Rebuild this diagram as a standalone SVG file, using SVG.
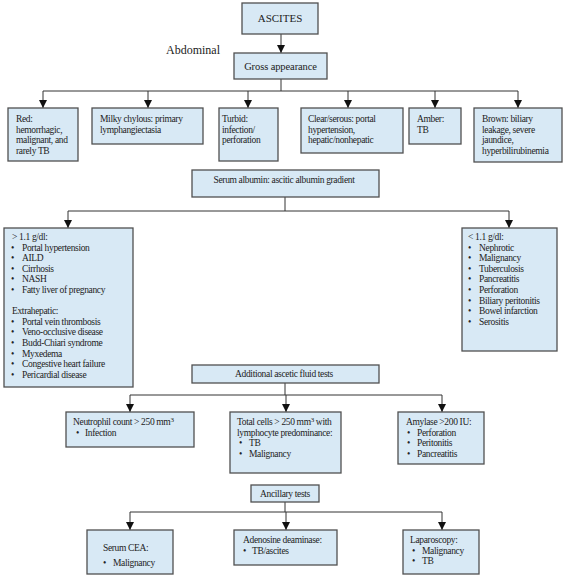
<svg xmlns="http://www.w3.org/2000/svg" width="564" height="579" viewBox="0 0 564 579">
<defs>
<style>
.box{fill:#d8e9f5;stroke:#505050;stroke-width:1.3}
.t{font-family:"Liberation Serif","Times New Roman",serif;font-size:9.5px;letter-spacing:-0.35px;fill:#222}
.c{text-anchor:middle}
.big{font-size:11px;letter-spacing:0}
.mid{font-size:10.5px;letter-spacing:-0.1px}
.ln{fill:none;stroke:#333;stroke-width:1}
</style>
<marker id="ah" markerUnits="userSpaceOnUse" markerWidth="9" markerHeight="9" refX="8" refY="4" orient="auto">
<path d="M0,0 L8,4 L0,8 Z" fill="#111"/>
</marker>
</defs>
<rect width="564" height="579" fill="#fff"/>

<g id="connectors">
<path class="ln" d="M281,34 V53" marker-end="url(#ah)"/>
<path class="ln" d="M281,79 V91 M43,91 H518"/>
<path class="ln" d="M43,91 V108" marker-end="url(#ah)"/>
<path class="ln" d="M148,91 V108" marker-end="url(#ah)"/>
<path class="ln" d="M248,91 V108" marker-end="url(#ah)"/>
<path class="ln" d="M348,91 V108" marker-end="url(#ah)"/>
<path class="ln" d="M435,91 V108" marker-end="url(#ah)"/>
<path class="ln" d="M518,91 V108" marker-end="url(#ah)"/>
<path class="ln" d="M285,197 V211 M68,211 H509"/>
<path class="ln" d="M68,211 V228" marker-end="url(#ah)"/>
<path class="ln" d="M509,211 V228" marker-end="url(#ah)"/>
<path class="ln" d="M285,383 V395 M130,395 H442"/>
<path class="ln" d="M130,395 V412" marker-end="url(#ah)"/>
<path class="ln" d="M286,395 V412" marker-end="url(#ah)"/>
<path class="ln" d="M442,395 V412" marker-end="url(#ah)"/>
<path class="ln" d="M285,502 V512 M130,512 H442"/>
<path class="ln" d="M130,512 V530" marker-end="url(#ah)"/>
<path class="ln" d="M286,512 V530" marker-end="url(#ah)"/>
<path class="ln" d="M442,512 V530" marker-end="url(#ah)"/>
</g>

<g id="ascites">
<rect class="box" x="242" y="3" width="76" height="31"/>
<text class="t c big" x="280" y="22">ASCITES</text>
</g>

<g id="abdominal-label">
<text class="t" x="166" y="54" style="font-size:12px;letter-spacing:0">Abdominal</text>
</g>

<g id="gross">
<rect class="box" x="234" y="53" width="93" height="26"/>
<text class="t c mid" x="280.5" y="69.5">Gross appearance</text>
</g>

<g id="red">
<rect class="box" x="8" y="108" width="70" height="53"/>
<text class="t" x="16" y="122">Red:<tspan x="16" dy="10.5">hemorrhagic,</tspan><tspan x="16" dy="10.5">malignant, and</tspan><tspan x="16" dy="10.5">rarely TB</tspan></text>
</g>

<g id="milky">
<rect class="box" x="92" y="108" width="111" height="36"/>
<text class="t" x="100" y="122">Milky chylous: primary<tspan x="100" dy="10.5">lymphangiectasia</tspan></text>
</g>

<g id="turbid">
<rect class="box" x="219" y="108" width="59" height="53"/>
<text class="t" x="222" y="122">Turbid:<tspan x="222" dy="10.5">infection/</tspan><tspan x="222" dy="10.5">perforation</tspan></text>
</g>

<g id="clear">
<rect class="box" x="301" y="108" width="102" height="45"/>
<text class="t" x="308" y="122">Clear/serous: portal<tspan x="308" dy="10.5">hypertension,</tspan><tspan x="308" dy="10.5">hepatic/nonhepatic</tspan></text>
</g>

<g id="amber">
<rect class="box" x="409" y="108" width="52" height="36"/>
<text class="t" x="417" y="122">Amber:<tspan x="417" dy="10.5">TB</tspan></text>
</g>

<g id="brown">
<rect class="box" x="474" y="108" width="88" height="54"/>
<text class="t" x="482" y="122">Brown: biliary<tspan x="482" dy="10.5">leakage, severe</tspan><tspan x="482" dy="10.5">jaundice,</tspan><tspan x="482" dy="10.5">hyperbilirubinemia</tspan></text>
</g>

<g id="saag">
<rect class="box" x="192" y="170" width="187" height="27"/>
<text class="t c" x="284" y="182.5">Serum albumin: ascitic albumin gradient</text>
</g>

<g id="high-saag">
<rect class="box" x="4" y="228" width="129" height="159"/>
<text class="t" x="12" y="240">&gt; 1.1 g/dl:</text>
<g class="t">
<text class="t" x="11" y="250.6">•</text><text class="t" x="22" y="250.6">Portal hypertension</text>
<text class="t" x="11" y="261.2">•</text><text class="t" x="22" y="261.2">AILD</text>
<text class="t" x="11" y="271.8">•</text><text class="t" x="22" y="271.8">Cirrhosis</text>
<text class="t" x="11" y="282.4">•</text><text class="t" x="22" y="282.4">NASH</text>
<text class="t" x="11" y="293">•</text><text class="t" x="22" y="293">Fatty liver of pregnancy</text>
</g>
<text class="t" x="12" y="314.2">Extrahepatic:</text>
<text class="t" x="11" y="324.8">•</text><text class="t" x="22" y="324.8">Portal vein thrombosis</text>
<text class="t" x="11" y="335.4">•</text><text class="t" x="22" y="335.4">Veno-occlusive disease</text>
<text class="t" x="11" y="346">•</text><text class="t" x="22" y="346">Budd-Chiari syndrome</text>
<text class="t" x="11" y="356.6">•</text><text class="t" x="22" y="356.6">Myxedema</text>
<text class="t" x="11" y="367.2">•</text><text class="t" x="22" y="367.2">Congestive heart failure</text>
<text class="t" x="11" y="377.8">•</text><text class="t" x="22" y="377.8">Pericardial disease</text>
</g>

<g id="low-saag">
<rect class="box" x="462" y="228" width="95" height="123"/>
<text class="t" x="468" y="240">&lt; 1.1 g/dl:</text>
<text class="t" x="468" y="250.6">•</text><text class="t" x="479" y="250.6">Nephrotic</text>
<text class="t" x="468" y="261.2">•</text><text class="t" x="479" y="261.2">Malignancy</text>
<text class="t" x="468" y="271.8">•</text><text class="t" x="479" y="271.8">Tuberculosis</text>
<text class="t" x="468" y="282.4">•</text><text class="t" x="479" y="282.4">Pancreatitis</text>
<text class="t" x="468" y="293">•</text><text class="t" x="479" y="293">Perforation</text>
<text class="t" x="468" y="303.6">•</text><text class="t" x="479" y="303.6">Biliary peritonitis</text>
<text class="t" x="468" y="314.2">•</text><text class="t" x="479" y="314.2">Bowel infarction</text>
<text class="t" x="468" y="324.8">•</text><text class="t" x="479" y="324.8">Serositis</text>
</g>

<g id="additional">
<rect class="box" x="192" y="365" width="187" height="18"/>
<text class="t c" x="284" y="377">Additional ascetic fluid tests</text>
</g>

<g id="neutrophil">
<rect class="box" x="66" y="412" width="128" height="35"/>
<text class="t" x="73" y="425">Neutrophil count &gt; 250 mm<tspan dy="-3" style="font-size:7px">3</tspan></text>
<text class="t" x="76" y="435.5">•</text><text class="t" x="85" y="435.5">Infection</text>
</g>

<g id="total-cells">
<rect class="box" x="230" y="412" width="111" height="61"/>
<text class="t" x="237" y="425">Total cells  &gt; 250 mm<tspan dy="-3" style="font-size:7px">3</tspan><tspan dy="3"> with</tspan></text>
<text class="t" x="237" y="435.5">lymphocyte predominance:</text>
<text class="t" x="239" y="446">•</text><text class="t" x="249" y="446">TB</text>
<text class="t" x="239" y="456.5">•</text><text class="t" x="249" y="456.5">Malignancy</text>
</g>

<g id="amylase">
<rect class="box" x="398" y="412" width="86" height="52"/>
<text class="t" x="406" y="425">Amylase &gt;200 IU:</text>
<text class="t" x="407" y="435.5">•</text><text class="t" x="417" y="435.5">Perforation</text>
<text class="t" x="407" y="446">•</text><text class="t" x="417" y="446">Peritonitis</text>
<text class="t" x="407" y="456.5">•</text><text class="t" x="417" y="456.5">Pancreatitis</text>
</g>

<g id="ancillary">
<rect class="box" x="251" y="485" width="68" height="17"/>
<text class="t c" x="285" y="496.5">Ancillary tests</text>
</g>

<g id="serum-cea">
<rect class="box" x="87" y="530" width="86" height="44"/>
<text class="t" x="103" y="551">Serum CEA:</text>
<text class="t" x="103" y="566">•</text><text class="t" x="113" y="566">Malignancy</text>
</g>

<g id="ada">
<rect class="box" x="234" y="530" width="103" height="35"/>
<text class="t" x="243" y="543">Adenosine deaminase:</text>
<text class="t" x="243" y="553.5">•</text><text class="t" x="252" y="553.5">TB/ascites</text>
</g>

<g id="laparoscopy">
<rect class="box" x="403" y="530" width="76" height="44"/>
<text class="t" x="410" y="543">Laparoscopy:</text>
<text class="t" x="412" y="553.5">•</text><text class="t" x="422" y="553.5">Malignancy</text>
<text class="t" x="412" y="564">•</text><text class="t" x="422" y="564">TB</text>
</g>
</svg>
